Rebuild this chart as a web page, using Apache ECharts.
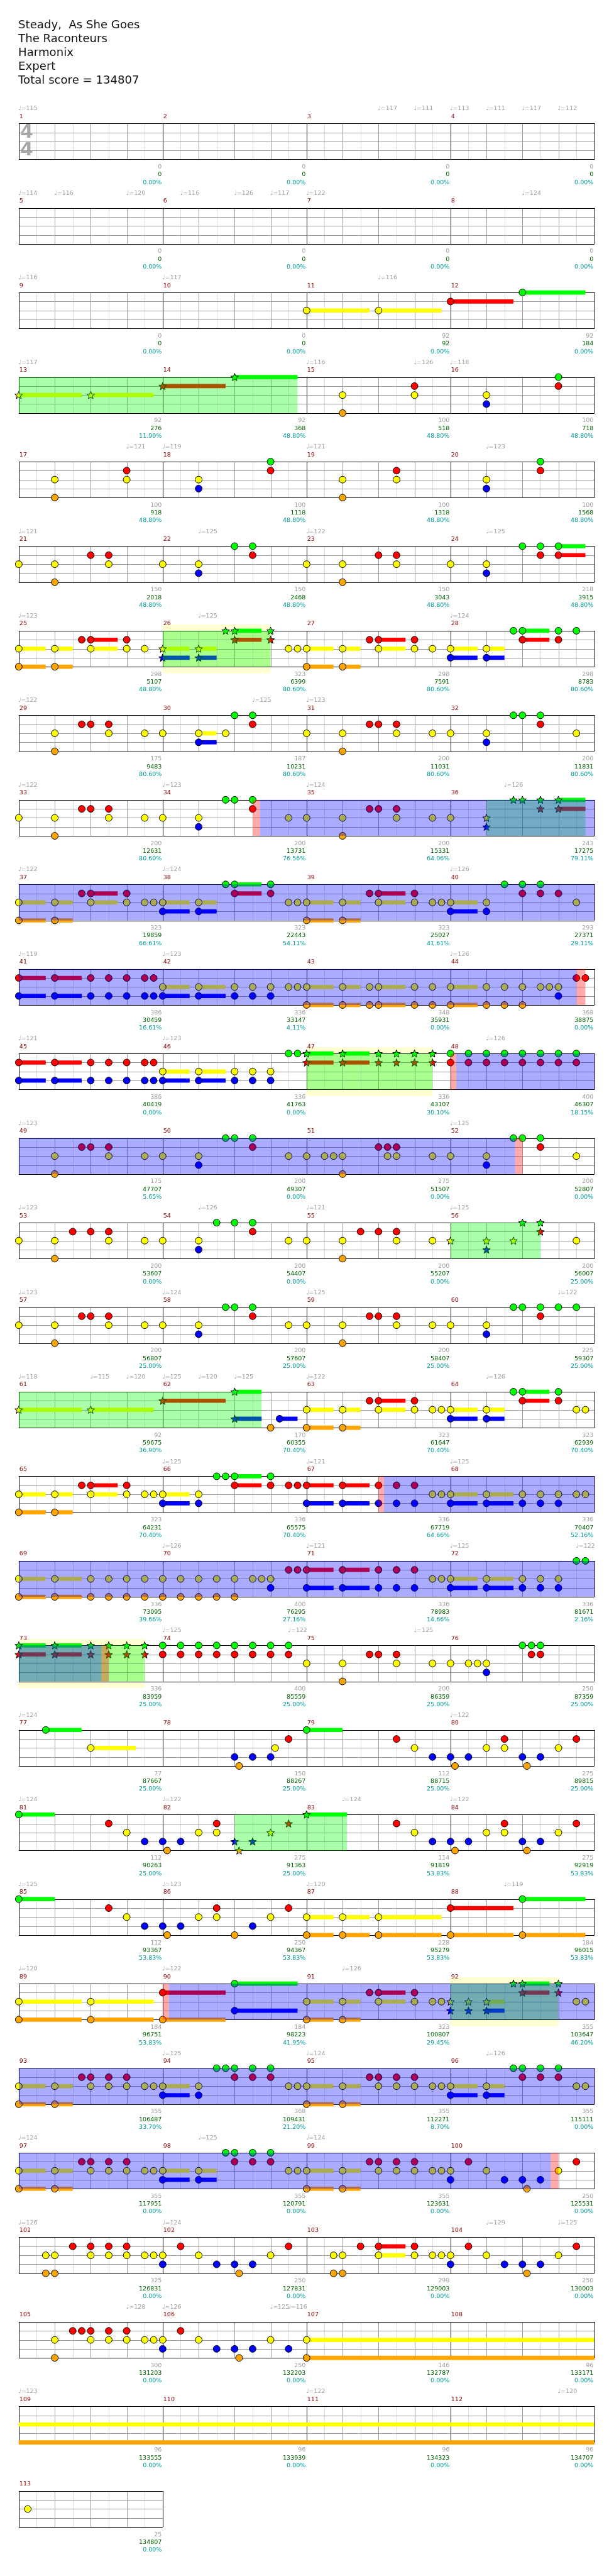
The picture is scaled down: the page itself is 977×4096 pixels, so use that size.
<!DOCTYPE html>
<html><head><meta charset="utf-8">
<script src="https://cdn.jsdelivr.net/npm/echarts@6.0.0/dist/echarts.min.js"></script>
<style>html,body{margin:0;padding:0;background:#fff}#c{width:977px;height:4096px}</style>
</head><body><div id="c"></div><script>
// ---------------- layout constants (reference pixels) ----------------
const S = 977 / 1024;
const STAFF_LEFT = 31.3, BEAT_W = 60, ROW0 = 205.7, ROW_PITCH = 140.95, LANE_H = 15, STAFF_H = 60;
const FONT = '"DejaVu Sans", Verdana, sans-serif';

// ---------------- data ----------------
const titleLines = ["Steady,  As She Goes", "The Raconteurs", "Harmonix", "Expert", "Total score = 134807"];
const measureCount = 113;
const LANES = "GRYBO";
const laneColors = ['#00ff00', '#ff0000', '#ffff00', '#0000ff', '#ffa500'];

const measureBase = [
  0,0,0,0, 0,0,0,0, 0,0,92,92, 92,92,100,100, 100,100,100,100, 150,150,150,218,
  298,323,298,298, 175,187,200,200, 200,200,200,243, 323,323,323,293, 386,336,348,368,
  386,336,336,400, 175,200,275,200, 200,200,200,200, 200,200,200,225, 92,170,323,323,
  323,336,336,336, 336,400,336,336, 336,400,200,250, 77,150,112,275, 112,275,114,275,
  112,250,228,184, 184,184,323,355, 355,368,355,355, 355,355,355,250, 325,250,298,250,
  300,250,146,96, 96,96,96,96, 25];
const measureScore = [
  0,0,0,0, 0,0,0,0, 0,0,92,184, 276,368,518,718, 918,1118,1318,1568, 2018,2468,3043,3915,
  5107,6399,7591,8783, 9483,10231,11031,11831, 12631,13731,15331,17275, 19859,22443,25027,27371,
  30459,33147,35931,38875, 40419,41763,43107,46307, 47707,49307,51507,52807, 53607,54407,55207,56007,
  56807,57607,58407,59307, 59675,60355,61647,62939, 64231,65575,67719,70407, 73095,76295,78983,81671,
  83959,85559,86359,87359, 87667,88267,88715,89815, 90263,91363,91819,92919, 93367,94367,95279,96015,
  96751,98223,100807,103647, 106487,109431,112271,115111, 117951,120791,123631,125531,
  126831,127831,129003,130003, 131203,132203,132787,133171, 133555,133939,134323,134707, 134807];
const measurePct = [
  0,0,0,0, 0,0,0,0, 0,0,0,0, 11.90,48.80,48.80,48.80, 48.80,48.80,48.80,48.80, 48.80,48.80,48.80,48.80,
  48.80,80.60,80.60,80.60, 80.60,80.60,80.60,80.60, 80.60,76.56,64.06,79.11, 66.61,54.11,41.61,29.11,
  16.61,4.11,0,0, 0,0,30.10,18.15, 5.65,0,0,0, 0,0,0,25.00, 25.00,25.00,25.00,25.00,
  36.90,70.40,70.40,70.40, 70.40,70.40,64.66,52.16, 39.66,27.16,14.66,2.16, 25,25,25,25, 25,25,25,25,
  25,25,53.83,53.83, 53.83,53.83,53.83,53.83, 53.83,41.95,29.45,46.20, 33.70,21.20,8.70,0,
  0,0,0,0, 0,0,0,0, 0,0,0,0, 0,0,0,0, 0];

// [measure, beat, bpm]
const tempoMarks = [
  [1,0,115],[3,2,117],[3,3,111],[4,0,113],[4,1,111],[4,2,117],[4,3,112],
  [5,0,114],[5,1,116],[5,3,120],[6,0.5,116],[6,2,126],[6,3,117],[7,0,122],[8,2,124],
  [9,0,116],[10,0,117],[11,2,116],
  [13,0,117],[15,0,116],[15,3,126],[16,0,118],
  [17,3,121],[18,0,119],[19,0,121],[20,1,123],
  [21,0,121],[22,1,125],[23,0,122],[24,1,125],
  [25,0,123],[26,1,125],[28,0,124],
  [29,0,122],[30,2.5,125],[31,0,123],
  [33,0,122],[34,0,123],[35,0,124],[36,1.5,126],
  [37,0,122],[38,0,124],[40,0,126],
  [41,0,119],[42,0,123],[44,0,126],
  [45,0,121],[46,0,123],[48,1,126],
  [49,0,123],[52,0,125],
  [53,0,123],[54,1,126],[55,0,121],[56,0,125],
  [57,0,123],[58,0,124],[59,0,125],[60,3,122],
  [61,0,118],[61,2,115],[61,3,120],[62,0,125],[62,1,120],[62,2,125],[63,0,122],[64,1,126],
  [66,0,125],[67,0,121],[68,0,125],
  [70,0,126],[71,0,121],[72,0,125],[72,3.5,122],
  [74,0,125],[74,3.5,122],[75,3,125],
  [77,0,124],[80,0,122],
  [81,0,124],[82,0,122],[83,1,124],[84,0,122],
  [85,0,125],[86,0,123],[87,0,120],[88,1.5,119],
  [89,0,120],[90,0,122],[91,1,126],
  [94,0,125],[95,0,124],[96,1,126],
  [97,0,124],[98,1,125],[99,0,124],
  [101,0,126],[102,0,124],[104,1,129],[104,3,125],
  [105,3,128],[106,0,126],[106,3,125],[106,3.5,116],
  [109,0,123],[111,0,122],[112,3,120]];

// [measure, "beat:FRETS~sustainBeats ..."]
const noteMeasures = [
  [11,"0:Y~1.75 2:Y~1.75"],
  [12,"0:R~1.75 2:G~1.75"],
  [13,"0:Y~1.75 2:Y~1.75"],
  [14,"0:R~1.75 2:G~1.75"],
  [15,"1:YO 3:RY"],
  [16,"1:YB 3:GR"],
  [17,"1:YO 3:RY"],
  [18,"1:YB 3:GR"],
  [19,"1:YO 2.5:RY"],
  [20,"1:YB 2.5:GR"],
  [21,"0:Y 1:YO 2:R 2.5:RY"],
  [22,"0:Y 1:YB 2:G 2.5:GR"],
  [23,"0:Y 1:YO 2:R 2.5:RY"],
  [24,"0:Y 1:YB 2:G 2.5:GR 3:GR~.75"],
  [25,"0:YO~.75 1:YO~.5 1.75:R 2:RY~.75 3:RY 3.5:Y"],
  [26,"0:YB~.75 1:YB~.5 1.75:G 2:GR~.75 3:GR 3.5:Y 3.75:Y"],
  [27,"0:YO~.75 1:YO~.5 1.75:R 2:RY~.75 3:RY 3.5:Y"],
  [28,"0:YB~.75 1:YB~.5 1.75:G 2:GR~.75 3:GR 3.5:G"],
  [29,"1:YO 1.75:R 2:R 2.5:RY 3.5:Y"],
  [30,"0:Y 1:YB~.5 1.75:Y 2:G 2.5:GR"],
  [31,"0:Y 1:YO 1.75:R 2:R 2.5:RY 3.5:Y"],
  [32,"0:Y 1:YB 1.75:G 2:G 2.5:GR 3.5:Y"],
  [33,"0:Y 1:YO 1.75:R 2:R 2.5:RY 3.5:Y"],
  [34,"0:Y 1:YB 1.75:G 2:G 2.5:GR 3.5:Y"],
  [35,"0:Y 1:YO 1.75:R 2:R 2.5:RY 3.5:Y"],
  [36,"0:Y 1:YB 1.75:G 2:G 2.5:GR 3:GR~.75"],
  [37,"0:YO~.75 1:YO~.5 1.75:R 2:RY~.75 3:RY 3.5:Y 3.75:Y"],
  [38,"0:YB~.75 1:YB~.5 1.75:G 2:GR~.75 3:GR 3.5:Y 3.75:Y"],
  [39,"0:YO~.75 1:YO~.5 1.75:R 2:RY~.75 3:RY 3.5:Y 3.75:Y"],
  [40,"0:YB~.75 1:YB 1.5:G 2:GR 2.5:GR 3:R 3.5:Y"],
  [41,"0:RB~.75 1:RB~.75 2:RB 2.5:RB 3:RB 3.5:RB 3.75:RB"],
  [42,"0:YB~.75 1:YB~.75 2:YB 2.5:YB 3:YB 3.5:Y 3.75:Y"],
  [43,"0:YO~.75 1:YO~.5 1.75:YO 2:YO~.75 3:YO 3.5:YO"],
  [44,"0:YO~.75 1:YO 1.5:YO 2:YO 2.5:Y 2.75:Y 3:YB 3.5:R 3.75:R"],
  [45,"0:RB~.75 1:RB~.75 2:RB 2.5:RB 3:RB 3.5:RB 3.75:RB"],
  [46,"0:YB~.75 1:YB~.75 2:YB 2.5:YB 3:YB 3.5:G 3.75:G"],
  [47,"0:GR~.75 1:GR~.75 2:GR 2.5:GR 3:GR 3.5:GR"],
  [48,"0:GR 0.5:GR 1:GR 1.5:GR 2:GR 2.5:GR 3:GR 3.5:GR"],
  [49,"1:YO 1.75:R 2:R 2.5:RY 3.5:Y"],
  [50,"0:Y 1:YB 1.75:G 2:G 2.5:GR 3.5:Y"],
  [51,"0:Y 0.5:Y 0.75:Y 1:YO 2:R 2.25:RY 2.5:RY 3.5:Y"],
  [52,"0:Y 1:YB 1.75:G 2:G 2.5:GR 3.5:Y"],
  [53,"0:Y 1:YO 1.5:R 2:R 2.5:RY 3.5:Y"],
  [54,"0:Y 1:YB 1.5:G 2:G 2.5:GR 3.5:Y"],
  [55,"0:Y 1:YO 1.5:R 2:R 2.5:RY 3.5:Y"],
  [56,"0:Y 1:YB 1.75:Y 2:G 2.5:GR 3.5:Y"],
  [57,"0:Y 1:YO 1.75:R 2:R 2.5:RY 3.5:Y"],
  [58,"0:Y 1:YB 1.75:G 2:G 2.5:GR 3.5:Y"],
  [59,"0:Y 1:YO 1.75:R 2:R 2.5:RY 3.5:Y"],
  [60,"0:Y 1:YB 1.75:G 2:G 2.5:GR 3:G 3.5:G"],
  [61,"0:Y~1.75 2:Y~1.75"],
  [62,"0:R~1.75 2:GB~.75 3:O 3.25:B~.5"],
  [63,"0:YO~.75 1:YO~.5 1.75:R 2:RY~.75 3:RY 3.5:Y 3.75:Y"],
  [64,"0:YB~.75 1:YB~.5 1.75:G 2:GR~.75 3:GR 3.5:Y 3.75:Y"],
  [65,"0:YO~.75 1:YO~.5 1.75:R 2:RY~.75 3:RY 3.5:Y 3.75:Y"],
  [66,"0:YB~.75 1:YB 1.5:G 1.75:G 2:GR~.75 3:GR 3.5:R 3.75:R"],
  [67,"0:RB~.75 1:RB~.75 2:RB 2.5:RB 3:RB 3.5:Y 3.75:Y"],
  [68,"0:YB~.75 1:YB~.75 2:YB 2.5:YB 3:YB 3.5:Y 3.75:Y"],
  [69,"0:YO~.75 1:YO~.75 2:YO 2.5:YO 3:YO 3.5:YO"],
  [70,"0:YO 0.5:YO 1:YO 1.5:YO 2:YO 2.5:Y 2.75:Y 3:YB 3.5:R 3.75:R"],
  [71,"0:RB~.75 1:RB~.75 2:RB 2.5:RB 3:RB 3.5:Y 3.75:Y"],
  [72,"0:YB~.75 1:YB~.75 2:YB 2.5:YB 3:YB 3.5:G 3.75:G"],
  [73,"0:GR~.75 1:GR~.75 2:GR 2.5:GR 3:GR 3.5:GR"],
  [74,"0:GR 0.5:GR 1:GR 1.5:GR 2:GR 2.5:GR 3:GR 3.5:GR"],
  [75,"0:Y 1:YO 1.75:R 2:R 2.5:RY 3.5:Y"],
  [76,"0:Y 0.5:Y 0.75:Y 1:YB 2:G 2.25:GR 2.5:GR"],
  [77,"0.75:G~1 2:Y~1.25"],
  [78,"2:B 2.125:O 2.5:B 3:B 3.125:Y 3.5:R"],
  [79,"0:G~1 2.5:R 3:Y 3.5:B"],
  [80,"0:B 0.125:O 0.5:B 1:Y 1.5:RY 2:B 2.125:O 2.5:B 3:Y 3.5:R"],
  [81,"0:G~1 2.5:R 3:Y 3.5:B"],
  [82,"0:B 0.125:O 0.5:B 1:Y 1.5:RY 2:B 2.125:O 2.5:B 3:Y 3.5:R"],
  [83,"0:G~1.125 2.5:R 3:Y 3.5:B"],
  [84,"0:B 0.125:O 0.5:B 1:Y 1.5:RY 2:B 2.125:O 2.5:B 3:Y 3.5:R"],
  [85,"0:G~1 2.5:R 3:Y 3.5:B"],
  [86,"0:B 0.125:O 0.5:B 1:Y 1.5:RY 2:O 2.5:B 3:Y 3.5:R"],
  [87,"0:YO~.75 1:YO~.75 2:YO~1.75"],
  [88,"0:RO~1.75 2:GO~1.75"],
  [89,"0:YO~1.75 2:YO~1.75"],
  [90,"0:RO~1.75 2:GB~1.75"],
  [91,"0:YO~.75 1:YO~.5 1.75:R 2:RY~.75 3:RY 3.5:Y 3.75:Y"],
  [92,"0:YB 0.5:YB 1:YB~.5 1.75:G 2:GR~.75 3:GR 3.5:Y 3.75:Y"],
  [93,"0:YO~.75 1:YO~.5 1.75:R 2:RY 2.5:RY 3:RY 3.5:Y 3.75:Y"],
  [94,"0:YB~.75 1:YB 1.5:G 1.75:G 2:GR 2.5:GR 3:GR 3.5:Y 3.75:Y"],
  [95,"0:YO~.75 1:YO~.5 1.75:R 2:RY 2.5:RY 3:RY 3.5:Y 3.75:Y"],
  [96,"0:YB~.75 1:YB~.5 1.75:G 2:GR 2.5:GR 3:GR 3.5:Y 3.75:Y"],
  [97,"0:YO~.75 1:YO~.5 1.75:R 2:RY 2.5:RY 3:RY 3.5:Y 3.75:Y"],
  [98,"0:YB~.75 1:YB~.5 1.75:G 2:GR 2.5:GR 3:GR 3.5:Y 3.75:Y"],
  [99,"0:YO~.75 1:YO~.5 1.75:R 2:RY 2.5:RY 3:RY 3.5:Y 3.75:Y"],
  [100,"0:YB 0.5:R 1:Y 1.5:B 2:B 2.125:O 2.5:B 3:Y 3.5:R"],
  [101,"0.75:YO 1:YO 1.5:R 2:RY 2.5:RY 3:RY 3.5:Y 3.75:Y"],
  [102,"0:YB 0.5:R 1:Y 1.5:B 2:B 2.125:O 2.5:B 3:Y 3.5:R"],
  [103,"0.75:YO 1:YO 1.5:R 2:RY~.75 3:RY 3.5:Y 3.75:Y"],
  [104,"0:YB 0.5:R 1:Y 1.5:B 2:B 2.125:O 2.5:B 3:Y 3.5:R"],
  [105,"1:YO 1.5:R 1.75:R 2:RY 2.5:RY 3:RY 3.5:Y 3.75:Y"],
  [106,"0:YB 0.5:R 1:Y 1.5:B 2:B 2.125:O 2.5:B 3:Y 3.5:B"],
  [107,"0:YO~24"],
  [113,"0.25:Y"]];

// [startMeasure, startBeat, endMeasure, endBeat]
const spPhrases = [[13,0,14,3.75],[26,0,26,3],[36,1,36,3.75],[47,0,47,3.5],[56,0,56,2.5],
  [61,0,62,2.75],[73,0,73,3.5],[82,2,83,1.125],[92,0,92,3]];
const unisonPhrases = [[26,0,26,3],[47,0,47,3.5],[73,0,73,3.5],[92,0,92,3]];
const odSections = [[34,2.7,44,3.5],[48,0.16,52,1.8],[67,2.15,73,2.3],[90,0.17,100,2.79]];
const odMarks = [[34,2.5,34,2.7],[44,3.5,44,3.75],[48,0,48,0.16],[52,1.8,52,2.0],
  [67,2.0,67,2.15],[73,2.3,73,2.5],[90,0,90,0.17],[100,2.79,100,3.0]];

// ---------------- helpers ----------------
const gb = (m, b) => (m - 1) * 4 + b;
const rowOf = G => Math.floor(G / 16 + 1e-9);
const rowTop = r => ROW0 + r * ROW_PITCH;
function splitRows(G0, G1) {
  const segs = []; let s = G0;
  while (s < G1 - 1e-9) {
    const r = rowOf(s); const e = Math.min(G1, (r + 1) * 16);
    segs.push({ r, x0: s - r * 16, x1: e - r * 16 }); s = e;
  }
  return segs;
}
const phraseSegs = list => list.flatMap(p => splitRows(gb(p[0], p[1]), gb(p[2], p[3])));

// notes & sustains
const notesFlat = [], sustainSegs = [];
noteMeasures.forEach(([m, str]) => {
  str.trim().split(/\s+/).forEach(tok => {
    const [pos, rest] = tok.split(':');
    const [frets, len] = rest.split('~');
    const G = gb(m, parseFloat(pos));
    const L = len ? parseFloat(len) : 0;
    const star = spPhrases.some(p => G >= gb(p[0], p[1]) - 1e-6 && G <= gb(p[2], p[3]) + 1e-6);
    for (const c of frets) {
      const lane = LANES.indexOf(c);
      const r = rowOf(G);
      notesFlat.push({ r, x: G - r * 16, lane, star });
      if (L > 0) splitRows(G, G + L).forEach(s => sustainSegs.push(Object.assign({ lane }, s)));
    }
  });
});

// measures
const measures = [];
for (let m = 1; m <= measureCount; m++) {
  const r = Math.floor((m - 1) / 4), x0 = ((m - 1) % 4) * 4;
  measures.push({ m, r, x0 });
}

// texts
const texts = [];
measures.forEach(({ m, r, x0 }) => {
  const top = rowTop(r), bot = top + STAFF_H;
  texts.push({ x: x0, y: top - 11.5, dx: 1, t: String(m), c: '#8b0000', a: 'left' });
  texts.push({ x: x0 + 4, y: bot + 12.7, dx: -1.5, t: String(measureBase[m - 1]), c: '#a0a0a0', a: 'right' });
  texts.push({ x: x0 + 4, y: bot + 25.7, dx: -1.5, t: String(measureScore[m - 1]), c: '#006400', a: 'right' });
  texts.push({ x: x0 + 4, y: bot + 38.5, dx: -1.5, t: measurePct[m - 1].toFixed(2) + '%', c: '#009b9b', a: 'right' });
});
tempoMarks.forEach(([m, b, bpm]) => {
  const G = gb(m, b), r = rowOf(G);
  texts.push({ x: G - r * 16, y: rowTop(r) - 24.5, dx: -1, t: '\u2669=' + bpm, c: '#a0a0a0', a: 'left' });
});

// ---------------- chart ----------------
const chart = echarts.init(document.getElementById('c'), null, { renderer: 'canvas' });
const snap = v => Math.round(v) + 0.5;

function layer(items, z, build, yOf) {
  return {
    type: 'custom', coordinateSystem: 'cartesian2d', z, silent: true, animation: false,
    progressive: 0, clip: false,
    data: items.map((it, i) => [it.x !== undefined ? it.x : it.x0, 0, i]),
    renderItem: (params, api) => build(items[params.dataIndex], api)
  };
}
function rectFor(api, x0, x1, y0, y1, fill) {
  const a = api.coord([x0, y0]), b = api.coord([x1, y1]);
  return { type: 'rect', shape: { x: a[0], y: a[1], width: b[0] - a[0], height: b[1] - a[1] }, style: { fill } };
}

const unisonSegs = phraseSegs(unisonPhrases);
const spSegs = phraseSegs(spPhrases);
const odSegs = phraseSegs(odSections);
const markSegs = phraseSegs(odMarks);

const series = [
  layer(unisonSegs, 1, (s, api) => rectFor(api, s.x0, s.x1, rowTop(s.r) - 10.5, rowTop(s.r) + STAFF_H + 11, '#ffffd2')),
  layer(measures, 2, (it, api) => {
    const top = rowTop(it.r), bot = top + STAFF_H, x0 = it.x0;
    const ch = [];
    const L = (xa, ya, xb, yb, color) => {
      const p = api.coord([xa, ya]), q = api.coord([xb, yb]);
      const vert = Math.abs(p[0] - q[0]) < 0.01;
      ch.push({ type: 'line', shape: vert ? { x1: snap(p[0]), y1: p[1], x2: snap(q[0]), y2: q[1] }
                                        : { x1: p[0], y1: snap(p[1]), x2: q[0], y2: snap(q[1]) },
        style: { stroke: color, lineWidth: 1 } });
    };
    [0.5, 1.5, 2.5, 3.5].forEach(k => L(x0 + k, top, x0 + k, bot, '#dcdcdc'));
    [1, 2, 3].forEach(k => L(x0 + k, top, x0 + k, bot, '#9a9a9a'));
    [1, 2, 3].forEach(l => L(x0, top + l * LANE_H, x0 + 4, top + l * LANE_H, '#9a9a9a'));
    L(x0, top, x0 + 4, top, '#000'); L(x0, bot, x0 + 4, bot, '#000');
    L(x0, top, x0, bot, '#000'); L(x0 + 4, top, x0 + 4, bot, '#000');
    return { type: 'group', children: ch };
  }),
  layer(sustainSegs, 3, (s, api) => {
    const y = rowTop(s.r) + s.lane * LANE_H;
    return rectFor(api, s.x0, s.x1, y - 3.5, y + 3.5, laneColors[s.lane]);
  }),
  layer(notesFlat, 4, (n, api) => {
    const p = api.coord([n.x, rowTop(n.r) + n.lane * LANE_H]);
    const fill = laneColors[n.lane];
    if (n.star) {
      const pts = [];
      for (let i = 0; i < 10; i++) {
        const ang = -Math.PI / 2 + i * Math.PI / 5;
        const rad = (i % 2 === 0 ? 6.8 : 2.9) * S;
        pts.push([p[0] + rad * Math.cos(ang), p[1] + 0.6 + rad * Math.sin(ang)]);
      }
      return { type: 'polygon', shape: { points: pts }, style: { fill, stroke: '#000', lineWidth: 1 } };
    }
    return { type: 'circle', shape: { cx: p[0], cy: p[1], r: 5.7 * S }, style: { fill, stroke: '#000', lineWidth: 1 } };
  }),
  layer(spSegs, 5, (s, api) => rectFor(api, s.x0, s.x1, rowTop(s.r), rowTop(s.r) + STAFF_H, 'rgba(0,255,0,0.33)')),
  layer(odSegs, 6, (s, api) => rectFor(api, s.x0, s.x1, rowTop(s.r), rowTop(s.r) + STAFF_H, 'rgba(0,0,255,0.33)')),
  layer(markSegs, 7, (s, api) => rectFor(api, s.x0, s.x1, rowTop(s.r), rowTop(s.r) + STAFF_H, 'rgba(255,0,0,0.33)')),
  layer(texts, 8, (t, api) => {
    const p = api.coord([t.x, t.y]);
    return { type: 'text', x: p[0] + t.dx * S, y: p[1],
      style: { text: t.t, fill: t.c, fontSize: 10 * S, fontFamily: FONT, align: t.a, verticalAlign: 'middle' } };
  })
];

const graphic = titleLines.map((t, i) => ({
  type: 'text', x: 30.5 * S, y: (42 + i * 23) * S,
  style: { text: t, fill: '#111', fontSize: 19 * S, fontFamily: FONT, verticalAlign: 'middle' }
}));
['4', '4'].forEach((t, i) => graphic.push({
  type: 'text', x: 44.5 * S, y: (rowTop(0) + 15.5 + i * 29.5) * S,
  style: { text: t, fill: '#a8a8a8', fontSize: 31 * S, fontWeight: 'bold', fontFamily: FONT, align: 'center', verticalAlign: 'middle' }
}));

chart.setOption({
  animation: false,
  grid: { left: 0, right: 0, top: 0, bottom: 0 },
  xAxis: { type: 'value', min: -STAFF_LEFT / BEAT_W, max: (1024 - STAFF_LEFT) / BEAT_W, show: false },
  yAxis: { type: 'value', min: 0, max: 4294, inverse: true, show: false },
  graphic,
  series
});
</script></body></html>
